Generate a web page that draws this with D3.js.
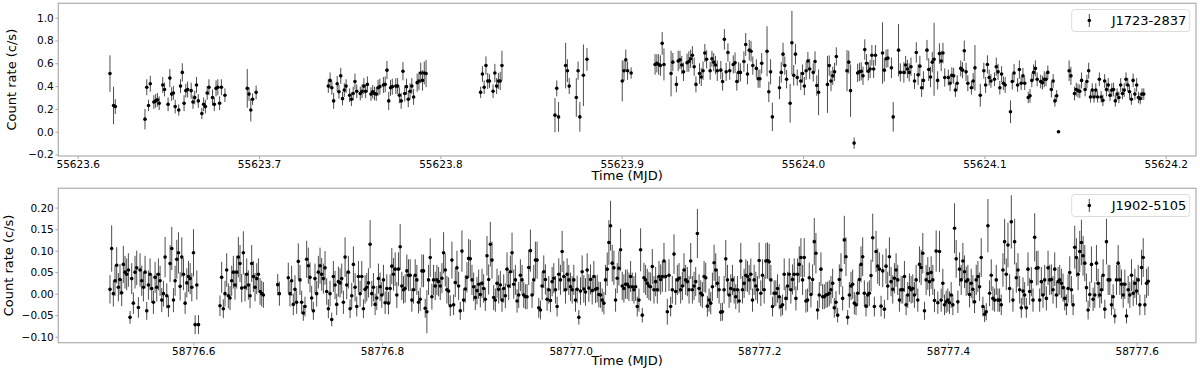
<!DOCTYPE html>
<meta charset="utf-8">
<style>

body { margin: 0; background: #fff; }

svg { font-family: "DejaVu Sans", sans-serif; }

.axis line {
  stroke: #a8a8a8;
}

.axis text {
  fill: #000;
  font-size: 10.5px;
  font-family: "DejaVu Sans", sans-serif;
}

.frame {
  fill: none;
  stroke: #b4b4b4;
  stroke-width: 1.3px;
}

.bar {
  stroke: #4d4d4d;
  stroke-width: 1px;
}

.dot { fill: #000; }

.label { font-size: 13px; fill: #000; }

.legend rect {
  fill: #fff;
  fill-opacity: 0.8;
  stroke: #dcdcdc;
  stroke-width: 1px;
}

.legend text { font-size: 13px; fill: #000; }

</style>
<svg width="1200" height="372"></svg>
<script src="https://cdn.jsdelivr.net/npm/d3@7"></script>
<script>

// ---- J1723-2837 : run start (MJD), bin width (d), count rates and 1-sigma errors (null = empty bin)
var j1723Bin = 0.00098;
var j1723Start = [55623.6178, 55623.6371, 55623.6935, 55623.7382, 55623.8222, 55623.8632, 55623.9003, 55623.9184];
var j1723Rate = [
  [0.51,null,0.23,0.22],
  [0.11,0.39,0.23,0.42,null,0.26,0.27,0.28,0.25,null,0.41,0.37,null,0.24,0.47,0.33,0.34,0.22,null,0.19,0.40,0.52,0.25,0.36,0.37,null,0.36,0.26,0.30,0.41,0.27,null,0.16,0.24,0.22,0.34,0.39,null,0.30,0.24,0.38,0.39,0.25,0.39,null,0.32],
  [0.38,0.33,0.19,0.285,null,0.345],
  [0.40,0.45,0.385,0.27,null,0.42,0.35,0.49,0.29,0.365,0.40,null,0.32,0.285,0.335,0.44,0.355,null,0.335,0.355,0.40,0.355,0.415,null,0.33,0.35,0.335,0.33,0.385,0.395,null,0.41,0.415,0.54,0.27,0.385,0.395,null,0.40,0.40,0.32,0.27,0.53,0.335,0.395,0.285,0.355,0.40,0.305,null,0.43,0.445,0.515,0.45,0.515,0.51],
  [0.345,0.505,0.39,0.58,0.445,0.445,null,0.355,0.515,0.40,0.445,0.445,0.58],
  [0.145,0.38,0.13,null,null,null,0.58,0.535,0.40,null,null,null,0.30,0.535,0.13,null,0.495,null,0.635],
  [0.445,0.535,0.63,0.535,null,0.515],
  [0.59,0.60,0.59,0.58,0.775,0.59,null,null,null,
   0.51,0.61,null,0.415,0.62,0.63,0.585,0.525,null,
   0.605,0.615,0.64,0.67,0.57,0.415,null,
   0.51,0.48,0.535,0.69,0.635,null,
   0.535,0.64,0.61,0.585,0.535,null,
   0.54,0.44,0.81,0.525,0.695,0.535,null,
   0.59,0.605,0.44,0.52,0.52,null,
   0.615,0.765,0.505,0.715,0.705,0.58,null,
   0.555,0.465,0.465,0.60,null,null,
   0.705,0.35,0.525,0.13,null,null,null,
   0.385,0.52,0.68,0.58,0.46,null,
   0.25,0.78,0.495,0.68,0.475,null,
   0.445,0.51,0.40,0.535,0.62,0.55,null,
   0.52,0.615,0.405,0.345,null,null,null,null,
   0.415,0.58,0.445,0.49,0.525,0.66,null,null,null,null,null,
   0.535,0.61,0.36,null,
   -0.10,null,
   0.515,0.525,0.53,0.49,0.72,0.60,0.53,0.55,0.67,0.55,0.67,null,null,null,
   0.69,0.54,0.64,0.645,null,
   0.56,0.13,null,null,
   0.715,0.52,null,
   0.52,0.585,0.55,0.52,0.57,null,
   0.445,0.695,0.50,0.575,0.385,0.45,null,
   0.715,0.545,0.48,0.61,0.635,null,
   0.45,0.685,0.62,0.69,0.475,null,
   0.475,0.425,0.495,0.49,0.365,0.425,null,
   0.555,0.54,0.71,0.525,0.425,null,
   0.385,0.445,0.56,null,null,
   0.32,null,
   0.535,0.41,0.59,0.475,0.445,null,
   0.46,0.57,0.525,0.385,0.505,0.425,0.41,null,null,
   0.175,0.44,0.515,null,
   0.41,0.545,0.425,0.49,0.425,null,
   0.30,0.315,0.45,0.52,0.555,0.46,null,
   0.44,0.43,0.46,0.46,0.52,null,
   0.37,0.445,0.27,0.315,0.00,null,null,null,null,null,
   0.535,0.49,null,
   0.335,0.37,0.36,0.355,0.45,null,
   0.37,0.44,0.535,0.305,0.365,0.305,0.365,0.305,0.46,0.305,0.275,0.445,0.37,0.41,0.32,0.365,0.37,0.27,0.33,0.30,0.41,0.335,0.365,0.46,0.41,0.35,0.285,0.45,0.33,0.41,0.30,0.29,0.33,0.33]
];
var j1723Err = [
  [0.16,null,0.165,0.065],
  [0.09,0.07,0.05,0.07,null,0.06,0.06,0.06,0.06,null,0.07,0.06,null,0.06,0.08,0.06,0.06,0.06,null,0.05,0.06,0.08,0.07,0.06,0.07,null,0.07,0.06,0.06,0.07,0.06,null,0.05,0.06,0.06,0.06,0.07,null,0.07,0.06,0.07,0.07,0.06,0.07,null,0.06],
  [0.17,0.06,0.10,0.05,null,0.06],
  [0.06,0.07,0.06,0.07,null,0.07,0.06,0.07,0.06,0.06,0.06,null,0.06,0.06,0.06,0.07,0.06,null,0.06,0.06,0.07,0.06,0.07,null,0.06,0.06,0.06,0.06,0.07,0.07,null,0.07,0.07,0.08,0.08,0.07,0.07,null,0.07,0.07,0.07,0.07,0.08,0.07,0.07,0.07,0.07,0.07,0.07,null,0.08,0.08,0.09,0.09,0.10,0.12],
  [0.05,0.07,0.06,0.08,0.07,0.06,null,0.06,0.08,0.07,0.07,0.08,0.13],
  [0.15,0.07,0.13,null,null,null,0.20,0.10,0.07,null,null,null,0.17,0.08,0.13,null,0.27,null,0.10],
  [0.18,0.09,0.09,0.08,null,0.05],
  [0.09,0.08,0.09,0.09,0.10,0.14,null,null,null,
   0.20,0.08,null,0.07,0.09,0.08,0.08,0.08,null,
   0.08,0.09,0.08,0.08,0.08,0.07,null,
   0.09,0.08,0.08,0.08,0.08,null,
   0.08,0.07,0.08,0.08,0.09,null,
   0.08,0.08,0.09,0.08,0.08,0.08,null,
   0.08,0.09,0.08,0.09,0.08,null,
   0.09,0.10,0.09,0.09,0.09,0.08,null,
   0.08,0.08,0.08,0.09,null,null,
   0.22,0.09,0.11,0.125,null,null,null,
   0.10,0.09,0.10,0.08,0.08,null,
   0.17,0.28,0.09,0.09,0.07,null,
   0.08,0.08,0.08,0.08,0.08,0.09,null,
   0.08,0.09,0.09,0.20,null,null,null,null,
   0.25,0.09,0.09,0.08,0.08,0.08,null,null,null,null,null,
   0.18,0.10,0.23,null,
   0.05,null,
   0.08,0.08,0.08,0.08,0.09,0.08,0.08,0.08,0.09,0.08,0.09,null,null,null,
   0.27,0.10,0.08,0.08,null,
   0.09,0.13,null,null,
   0.23,0.08,null,
   0.09,0.08,0.08,0.08,0.08,null,
   0.07,0.09,0.09,0.09,0.08,0.08,null,
   0.09,0.10,0.09,0.09,0.32,null,
   0.08,0.09,0.09,0.09,0.08,null,
   0.07,0.07,0.07,0.07,0.06,0.07,null,
   0.07,0.07,0.09,0.08,0.07,null,
   0.06,0.07,0.20,null,null,
   0.10,null,
   0.07,0.07,0.08,0.07,0.06,null,
   0.06,0.08,0.07,0.06,0.07,0.06,0.07,null,null,
   0.10,0.07,0.08,null,
   0.06,0.08,0.06,0.07,0.06,null,
   0.05,0.06,0.06,0.07,0.07,0.06,null,
   0.06,0.06,0.07,0.06,0.06,null,
   0.07,0.06,0.05,0.05,0.004,null,null,null,null,null,
   0.09,0.08,null,
   0.06,0.06,0.06,0.06,0.07,null,
   0.06,0.06,0.07,0.05,0.06,0.05,0.06,0.05,0.06,0.05,0.05,0.06,0.06,0.06,0.05,0.06,0.06,0.05,0.05,0.05,0.06,0.05,0.06,0.06,0.06,0.06,0.05,0.06,0.05,0.06,0.05,0.05,0.05,0.05]
];

// ---- J1902-5105
var j1902Bin = 0.00177;
var j1902Start = [58776.5117, 58776.6283, 58776.6895, 58776.7007];
var j1902Rate = [
  [0.010,0.105,0.000,0.030,0.066,0.015,0.033,0.002,0.068,0.050,0.045,0.055,-0.055,0.035,-0.022,0.050,0.060,-0.032,0.055,0.030,0.015,0.050,-0.040,0.020,0.045,0.012,-0.020,0.038,0.015,0.045,0.030,-0.015,0.000,0.085,-0.005,-0.030,0.070,0.105,-0.015,0.030,0.080,0.095,0.017,0.085,0.045,-0.022,0.025,0.040,0.035,0.015,0.095,-0.072,0.020,-0.072],
  [-0.028,0.038,-0.035,0.000,0.055,-0.005,-0.010,0.030,0.050,0.020,0.050,0.085,0.070,0.013,0.095,0.015,0.045,0.020,-0.005,0.070,0.040,0.015,0.035,0.045,0.005,0.000,-0.003],
  [0.021,0.000],
  [0.037,0.000,0.030,-0.025,0.010,-0.020,0.075,0.032,-0.020,-0.045,-0.030,0.080,0.065,0.038,-0.010,-0.040,0.035,0.000,0.050,0.065,
   0.045,0.035,0.060,0.005,-0.035,0.000,-0.060,0.040,0.020,-0.025,0.028,0.025,0.035,-0.020,0.085,0.020,0.050,-0.035,-0.005,0.068,
   0.015,-0.030,0.040,0.000,0.040,-0.035,0.010,0.015,0.025,0.115,0.000,0.015,-0.025,-0.010,0.035,
   0.016,-0.003,0.032,-0.021,0.012,-0.022,0.012,0.064,0.045,0.057,
   -0.003,0.057,0.109,0.018,0.009,0.012,0.053,0.043,0.043,-0.015,
   0.009,0.043,0.032,-0.020,-0.013,0.053,0.053,-0.034,-0.042,0.032,
   0.084,-0.007,0.032,0.018,0.032,0.028,0.018,0.036,0.095,0.055,
   0.009,0.006,-0.028,0.078,-0.026,0.026,0.060,0.018,-0.040,0.099,
   -0.015,0.011,0.038,0.082,0.081,0.032,0.016,-0.009,0.007,0.022,
   -0.002,0.024,0.012,-0.013,0.088,0.033,0.115,0.078,-0.009,-0.015,
   0.024,0.010,0.020,-0.015,0.012,-0.005,0.057,0.018,0.051,0.095,
   0.022,0.032,-0.017,-0.003,0.043,0.032,-0.003,-0.007,-0.007,0.061,
   0.100,-0.003,0.032,0.078,0.078,-0.033,-0.038,0.018,0.051,0.033,
   -0.013,0.009,-0.016,0.028,0.036,0.009,-0.030,0.045,0.032,0.098,
   0.040,0.009,0.045,0.032,0.016,0.009,0.032,-0.015,0.010,-0.055,
   0.006,0.051,0.011,0.004,0.055,0.013,0.033,0.007,0.040,0.010,
   0.012,-0.002,-0.003,-0.015,-0.022,0.032,0.057,0.119,0.158,0.071,
   0.060,-0.015,0.036,0.059,0.102,0.018,0.012,0.022,0.022,0.016,
   0.040,0.016,0.009,0.016,-0.030,-0.015,0.102,-0.050,0.037,0.032,
   0.024,0.018,0.016,0.063,0.009,0.028,0.009,0.040,0.033,0.040,
   0.076,0.040,-0.042,0.043,-0.030,0.009,0.092,0.005,0.032,0.036,
   0.009,0.018,0.055,0.032,0.028,0.009,0.076,0.009,0.018,0.028,
   0.140,0.012,0.001,-0.003,0.040,0.037,-0.029,-0.015,-0.022,0.016,
   0.072,0.055,0.024,0.009,-0.043,-0.042,0.009,0.081,0.032,-0.003,
   0.012,0.032,0.009,-0.007,0.009,-0.017,0.076,0.009,0.024,0.043,
   0.040,0.032,0.045,-0.015,0.032,0.018,0.009,0.077,0.001,0.043,
   0.009,0.076,0.077,0.074,0.032,-0.030,0.001,0.001,0.012,-0.007,-0.030,
   -0.026,0.045,-0.011,0.018,0.045,0.009,0.033,0.045,-0.011,0.045,
   0.068,0.084,0.032,0.084,-0.017,-0.015,0.037,-0.002,0.033,0.121,
   0.094,-0.038,-0.003,0.057,-0.007,-0.007,-0.003,-0.002,0.001,0.009,
   0.024,-0.033,-0.020,-0.050,0.033,0.055,-0.011,0.125,0.086,-0.055,
   -0.003,0.018,0.022,-0.022,-0.026,0.001,0.033,0.068,0.086,0.001,
   -0.029,-0.003,0.001,0.042,0.130,-0.030,0.098,0.064,0.057,-0.029,
   0.053,-0.036,0.064,0.018,0.086,0.028,0.010,0.036,0.055,0.032,
   -0.015,0.009,0.009,0.040,-0.026,-0.003,0.014,0.009,0.012,-0.003,
   0.032,-0.015,0.068,0.061,0.094,-0.040,0.032,0.047,0.028,0.049,
   0.032,-0.016,0.099,-0.021,0.098,-0.015,0.024,-0.026,-0.019,-0.015,
   -0.021,-0.003,-0.026,0.152,0.081,-0.019,0.057,0.032,0.076,0.051,
   0.029,0.032,-0.002,0.024,0.010,-0.019,0.032,0.040,0.016,0.084,
   -0.030,-0.048,-0.042,0.158,0.001,0.043,-0.011,-0.015,0.032,-0.015,
   -0.015,-0.026,0.055,0.121,0.045,0.113,0.012,0.167,-0.015,0.121,
   0.037,0.055,0.009,-0.033,0.006,-0.003,-0.033,0.057,0.005,0.028,
   -0.015,0.131,0.059,0.060,-0.015,0.028,-0.003,0.032,-0.011,0.060,
   0.032,0.033,0.009,0.057,-0.003,0.028,0.032,0.024,0.014,-0.011,
   -0.026,0.012,0.049,0.009,-0.026,0.108,0.084,0.045,0.098,0.119,
   0.088,0.071,0.014,-0.038,-0.002,0.068,-0.013,-0.003,0.071,0.024,
   -0.003,0.009,0.043,-0.036,0.121,0.032,0.032,-0.026,-0.007,-0.052,
   0.032,0.071,0.032,0.022,-0.003,0.022,-0.052,0.009,-0.003,0.043,
   0.001,0.024,0.006,0.032,-0.026,0.061,0.084,-0.026,0.024,0.029]
];
var j1902Err = [
  [.033,.054,.030,.035,.042,.033,.036,.031,.043,.038,.037,.039,.015,.036,.025,.038,.040,.024,.039,.035,.033,.038,.021,.034,.037,.033,.027,.036,.033,.037,.035,.028,.030,.047,.029,.024,.043,.050,.028,.035,.045,.048,.033,.046,.037,.025,.034,.036,.036,.033,.055,.022,.034,.022],
  [.024,.036,.022,.030,.039,.029,.028,.035,.038,.034,.038,.047,.043,.033,.050,.033,.037,.034,.029,.043,.036,.033,.036,.037,.031,.030,.030],
  [.025,.028],
  [.035,.030,.035,.025,.033,.027,.042,.035,.027,.018,.023,.043,.042,.035,.028,.021,.035,.030,.038,.042,
   .038,.035,.039,.031,.022,.030,.016,.036,.033,.025,.035,.034,.035,.027,.046,.033,.038,.022,.030,.042,
   .033,.023,.036,.030,.036,.022,.033,.033,.034,.056,.030,.033,.025,.028,.035,
   .033,.030,.035,.026,.033,.026,.033,.042,.038,.039,
   .030,.039,.053,.033,.032,.033,.038,.037,.037,.027,
   .032,.037,.035,.026,.027,.038,.038,.022,.050,.035,
   .045,.030,.035,.033,.035,.034,.033,.035,.048,.038,
   .032,.032,.024,.043,.024,.034,.040,.033,.021,.048,
   .027,.032,.035,.045,.044,.035,.033,.029,.032,.034,
   .030,.034,.033,.027,.046,.035,.052,.043,.029,.027,
   .034,.033,.033,.027,.033,.029,.039,.033,.038,.047,
   .034,.035,.027,.030,.037,.035,.030,.029,.029,.041,
   .049,.030,.035,.043,.043,.023,.022,.033,.038,.035,
   .027,.032,.027,.034,.035,.032,.023,.037,.035,.048,
   .036,.032,.037,.035,.033,.032,.035,.027,.032,.017,
   .032,.038,.032,.032,.039,.032,.035,.032,.036,.032,
   .032,.030,.030,.027,.026,.035,.039,.052,.058,.043,
   .040,.027,.035,.040,.049,.033,.033,.034,.034,.033,
   .036,.033,.032,.033,.023,.027,.050,.017,.035,.035,
   .034,.033,.033,.041,.032,.034,.032,.036,.035,.036,
   .042,.036,.030,.037,.023,.032,.046,.031,.035,.035,
   .032,.033,.039,.035,.034,.032,.042,.032,.033,.034,
   .057,.033,.030,.030,.036,.035,.024,.027,.026,.033,
   .042,.039,.034,.032,.021,.021,.032,.044,.035,.030,
   .033,.035,.032,.029,.032,.027,.042,.032,.034,.037,
   .036,.035,.037,.027,.035,.033,.032,.042,.030,.037,
   .032,.042,.042,.042,.035,.023,.030,.030,.033,.029,.023,
   .024,.037,.028,.033,.037,.032,.035,.037,.028,.037,
   .042,.045,.035,.045,.027,.027,.035,.030,.035,.055,
   .047,.022,.030,.039,.029,.029,.030,.030,.030,.032,
   .034,.023,.026,.017,.035,.039,.028,.056,.045,.017,
   .030,.033,.034,.026,.024,.030,.035,.042,.045,.030,
   .024,.030,.030,.037,.056,.023,.048,.041,.039,.024,
   .038,.022,.041,.033,.045,.034,.033,.035,.039,.035,
   .027,.032,.032,.036,.024,.030,.033,.032,.033,.030,
   .035,.027,.042,.041,.047,.021,.035,.038,.034,.038,
   .035,.027,.048,.026,.048,.027,.034,.024,.026,.027,
   .026,.030,.024,.058,.044,.026,.039,.035,.042,.038,
   .034,.035,.030,.034,.033,.026,.035,.036,.033,.045,
   .023,.018,.020,.062,.030,.037,.028,.027,.035,.027,
   .027,.024,.039,.053,.037,.052,.033,.062,.027,.053,
   .035,.039,.032,.023,.032,.030,.023,.039,.031,.034,
   .027,.056,.040,.040,.027,.034,.030,.035,.028,.040,
   .035,.035,.032,.039,.030,.034,.035,.034,.033,.028,
   .024,.033,.038,.032,.024,.050,.045,.037,.048,.053,
   .046,.042,.033,.022,.030,.042,.027,.030,.042,.034,
   .030,.032,.037,.022,.053,.035,.035,.024,.029,.017,
   .035,.042,.035,.034,.030,.034,.017,.032,.030,.037,
   .030,.034,.032,.035,.024,.041,.045,.024,.034,.034]
];

// axis limits and ticks
var j1723XLim = [55623.5893, 55624.2167];
var j1723YLim = [-0.213, 1.126];
var j1723XTicks = [55623.6, 55623.7, 55623.8, 55623.9, 55624.0, 55624.1, 55624.2];
var j1723YTicks = [-0.2, 0.0, 0.2, 0.4, 0.6, 0.8, 1.0];

var j1902XLim = [58776.4569, 58777.6629];
var j1902YLim = [-0.114, 0.245];
var j1902XTicks = [58776.6, 58776.8, 58777.0, 58777.2, 58777.4, 58777.6];
var j1902YTicks = [-0.10, -0.05, 0.00, 0.05, 0.10, 0.15, 0.20];

var svg = d3.select("svg");

function points(starts, rates, errs, bin) {
  var out = [];
  starts.forEach(function(t0, k) {
    rates[k].forEach(function(r, i) {
      if (r === null) return;
      out.push({time: t0 + i * bin, rate: r, err: errs[k][i] || 0});
    });
  });
  return out;
}

function panel(p) {
  var x = d3.scaleLinear().domain(p.xLim).range([p.left, p.right]),
      y = d3.scaleLinear().domain(p.yLim).range([p.bottom, p.top]);
  var g = svg.append("g");

  g.append("g")
      .attr("class", "axis")
      .attr("transform", "translate(0," + p.bottom + ")")
      .call(d3.axisBottom(x).tickValues(p.xTicks).tickFormat(d3.format(".1f")).tickSize(3).tickPadding(1.5))
      .call(function(a) { a.select(".domain").remove(); });

  g.append("g")
      .attr("class", "axis")
      .attr("transform", "translate(" + p.left + ",0)")
      .call(d3.axisLeft(y).tickValues(p.yTicks).tickFormat(d3.format(p.yFmt)).tickSize(3).tickPadding(1.5))
      .call(function(a) { a.select(".domain").remove(); });

  g.selectAll(".bar")
    .data(p.data)
    .enter().append("line")
      .attr("class", "bar")
      .attr("x1", function(d) { return x(d.time); })
      .attr("x2", function(d) { return x(d.time); })
      .attr("y1", function(d) { return y(d.rate - d.err); })
      .attr("y2", function(d) { return y(d.rate + d.err); });

  g.selectAll(".dot")
    .data(p.data)
    .enter().append("circle")
      .attr("class", "dot")
      .attr("cx", function(d) { return x(d.time); })
      .attr("cy", function(d) { return y(d.rate); })
      .attr("r", 1.8);

  g.append("rect")
      .attr("class", "frame")
      .attr("x", p.left).attr("y", p.top)
      .attr("width", p.right - p.left).attr("height", p.bottom - p.top);

  g.append("text")
      .attr("class", "label")
      .attr("text-anchor", "middle")
      .attr("transform", "translate(" + p.yLabelX + "," + (p.top + p.bottom) / 2 + ") rotate(-90)")
      .text("Count rate (c/s)");

  g.append("text")
      .attr("class", "label")
      .attr("text-anchor", "middle")
      .attr("x", (p.left + p.right) / 2)
      .attr("y", p.xLabelY)
      .text("Time (MJD)");

  var lg = g.append("g").attr("class", "legend")
      .attr("transform", "translate(" + p.legendX + "," + p.legendY + ")");
  lg.append("rect").attr("width", 118).attr("height", 22).attr("rx", 3).attr("ry", 3);
  lg.append("line").attr("class", "bar").attr("x1", 17.6).attr("x2", 17.6).attr("y1", 4.5).attr("y2", 17.5);
  lg.append("circle").attr("class", "dot").attr("cx", 17.6).attr("cy", 11).attr("r", 1.8);
  lg.append("text").attr("x", 40).attr("y", 15.6).text(p.name);
}

panel({
  data: points(j1723Start, j1723Rate, j1723Err, j1723Bin),
  xLim: j1723XLim, yLim: j1723YLim, xTicks: j1723XTicks, yTicks: j1723YTicks, yFmt: ".1f",
  left: 58.3, right: 1196, top: 3.3, bottom: 156,
  yLabelX: 16, xLabelY: 180, legendX: 1071.7, legendY: 9.5, name: "J1723-2837"
});

panel({
  data: points(j1902Start, j1902Rate, j1902Err, j1902Bin),
  xLim: j1902XLim, yLim: j1902YLim, xTicks: j1902XTicks, yTicks: j1902YTicks, yFmt: ".2f",
  left: 58.3, right: 1196, top: 188.3, bottom: 342.7,
  yLabelX: 12.5, xLabelY: 365, legendX: 1071.7, legendY: 194.5, name: "J1902-5105"
});

</script>
